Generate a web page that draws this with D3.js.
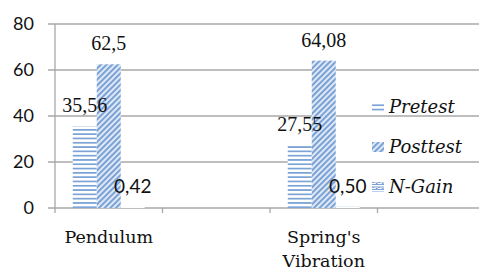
<!DOCTYPE html>
<html>
<head>
<meta charset="utf-8">
<script src="https://cdn.jsdelivr.net/npm/d3@7"></script>
<style>
  html, body { margin: 0; padding: 0; background: #fff; }
  svg { display: block; }
</style>
</head>
<body>
<div id="chart"></div>
<script>
// data
const categories = ["Pendulum", "Spring's Vibration"];
const slots = ["Pendulum", "gap1", "Spring's Vibration", "gap2"];
const series = ["Pretest", "Posttest", "N-Gain"];
const pretest = [35.56, 27.55];
const posttest = [62.5, 64.08];
const nGain = [0.42, 0.50];
const pretestLabels = ["35,56", "27,55"];
const posttestLabels = ["62,5", "64,08"];
const nGainLabels = ["0,42", "0,50"];
const yTicks = [0, 20, 40, 60, 80];

const width = 479, height = 270;
const blue = "#7ba2d6";
const gridColor = "#a8a8a8";

const svg = d3.select("#chart").append("svg")
    .attr("width", width)
    .attr("height", height);

// patterns
const defs = svg.append("defs");
const hp = defs.append("pattern")
    .attr("id", "horiz")
    .attr("patternUnits", "userSpaceOnUse")
    .attr("width", 8).attr("height", 4.3);
hp.append("rect").attr("width", 8).attr("height", 4.3).attr("fill", "#fff");
hp.append("rect").attr("y", 0).attr("width", 8).attr("height", 1.7).attr("fill", blue);

const dp = defs.append("pattern")
    .attr("id", "diag")
    .attr("patternUnits", "userSpaceOnUse")
    .attr("width", 4).attr("height", 4)
    .attr("patternTransform", "rotate(45)");
dp.append("rect").attr("width", 4).attr("height", 4).attr("fill", "#e4ecf7");
dp.append("rect").attr("width", 2.1).attr("height", 4).attr("fill", blue);

const zp = defs.append("pattern")
    .attr("id", "zig")
    .attr("patternUnits", "userSpaceOnUse")
    .attr("width", 6).attr("height", 5);
zp.append("rect").attr("width", 6).attr("height", 5).attr("fill", "#fff");
zp.append("path").attr("d", "M0,1.5 L6,1.5 M0,4 L6,4 M4,0 L6,1.5 M2,5 L0,4")
    .attr("stroke", blue).attr("stroke-width", 1.2).attr("fill", "none");

const fills = {"Pretest": "url(#horiz)", "Posttest": "url(#diag)", "N-Gain": "url(#zig)"};

// scales
const y = d3.scaleLinear().domain([0, 80]).range([208, 24]);
const x = d3.scaleBand().domain(slots).range([55, 485]).paddingInner(0).paddingOuter(0);
const xInner = d3.scaleBand().domain(series).range([0, x.bandwidth()]).paddingInner(0).paddingOuter(0.74);

// gridlines
svg.append("g")
    .selectAll("line")
    .data(yTicks)
    .join("line")
    .attr("x1", 48).attr("x2", width)
    .attr("y1", d => y(d)).attr("y2", d => y(d))
    .attr("stroke", gridColor)
    .attr("stroke-width", 1.3);

// y axis line
svg.append("line")
    .attr("x1", 55).attr("x2", 55)
    .attr("y1", y(80)).attr("y2", y(0) + 5)
    .attr("stroke", gridColor).attr("stroke-width", 1.3);

// x ticks at band boundaries
svg.append("g")
    .selectAll("line")
    .data(slots.slice(1))
    .join("line")
    .attr("x1", d => x(d)).attr("x2", d => x(d))
    .attr("y1", y(0)).attr("y2", y(0) + 5)
    .attr("stroke", gridColor).attr("stroke-width", 1.3);

// y tick labels
svg.append("g")
    .selectAll("text")
    .data(yTicks)
    .join("text")
    .attr("x", 34)
    .attr("y", d => y(d))
    .attr("dy", "0.36em")
    .attr("text-anchor", "end")
    .attr("font-family", "Lato, 'Open Sans', sans-serif")
    .attr("font-size", 18)
    .attr("fill", "#111")
    .text(d => d);

// bars
const rows = [];
categories.forEach((c, i) => {
    rows.push({cat: c, key: "Pretest", value: pretest[i], label: pretestLabels[i]});
    rows.push({cat: c, key: "Posttest", value: posttest[i], label: posttestLabels[i]});
    rows.push({cat: c, key: "N-Gain", value: nGain[i], label: nGainLabels[i]});
});

svg.append("g")
    .selectAll("rect")
    .data(rows)
    .join("rect")
    .attr("x", d => x(d.cat) + xInner(d.key))
    .attr("y", d => y(d.value))
    .attr("width", xInner.bandwidth())
    .attr("height", d => Math.max(1, y(0) - y(d.value)))
    .attr("fill", d => fills[d.key]);

// value labels
svg.append("g")
    .selectAll("text")
    .data(rows)
    .join("text")
    .attr("x", d => x(d.cat) + xInner(d.key) + xInner.bandwidth() / 2)
    .attr("y", d => y(d.value) - 14)
    .attr("text-anchor", "middle")
    .attr("font-family", d => d.key === "N-Gain" ? "Lato, 'Open Sans', sans-serif" : "'Liberation Serif', 'Times New Roman', serif")
    .attr("font-size", d => d.key === "N-Gain" ? 19 : 20)
    .attr("fill", "#111")
    .text(d => d.label);

// category labels
const catText = svg.append("g")
    .selectAll("text")
    .data(categories)
    .join("text")
    .attr("x", d => x(d) + x.bandwidth() / 2)
    .attr("y", 243)
    .attr("text-anchor", "middle")
    .attr("font-family", "'DejaVu Serif', serif")
    .attr("font-size", 17.5)
    .attr("fill", "#111");

catText.each(function(d) {
    const words = d === "Spring's Vibration" ? ["Spring's", "Vibration"] : [d];
    const t = d3.select(this);
    words.forEach((w, i) => {
        t.append("tspan")
            .attr("x", x(d) + x.bandwidth() / 2)
            .attr("dy", i === 0 ? 0 : 24)
            .text(w);
    });
});

// legend
const legend = svg.append("g")
    .selectAll("g")
    .data(series)
    .join("g")
    .attr("transform", (d, i) => `translate(372, ${113 + i * 40})`);

legend.append("rect")
    .attr("x", 0).attr("y", -11)
    .attr("width", 12).attr("height", 10)
    .attr("fill", d => fills[d]);

legend.append("text")
    .attr("x", 17)
    .attr("y", 0)
    .attr("font-family", "'DejaVu Serif', serif")
    .attr("font-style", "italic")
    .attr("font-size", 18)
    .attr("fill", "#111")
    .text(d => d);
</script>
</body>
</html>
